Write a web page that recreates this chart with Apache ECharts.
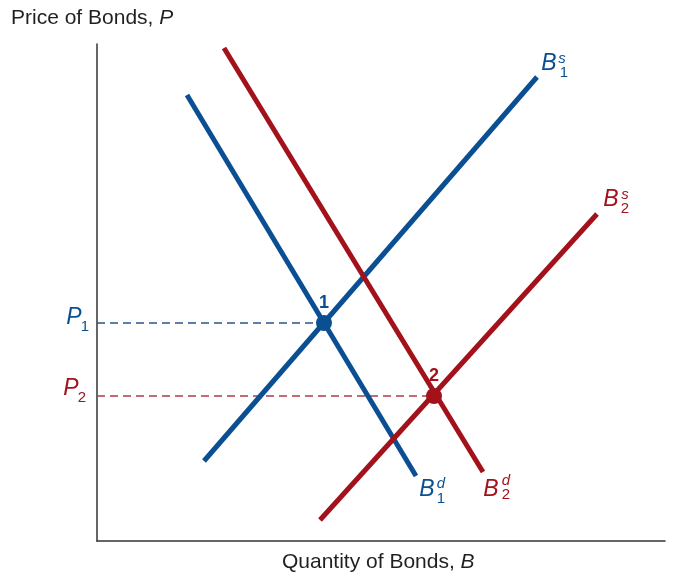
<!DOCTYPE html>
<html>
<head>
<meta charset="utf-8">
<script src="https://cdn.jsdelivr.net/npm/echarts@6/dist/echarts.min.js"></script>
<style>
  html, body { margin: 0; padding: 0; background: #fff; }
  #chart { width: 679px; height: 577px; }
</style>
</head>
<body>
<div id="chart"></div>
<script>
// axis units: quantity 0..568, price 0..497 (no ticks drawn)
const demand1 = [[90, 446], [319, 65]];
const demand2 = [[127, 493], [386, 69]];
const supply1 = [[107, 80], [440, 464]];
const supply2 = [[223, 21], [500, 327]];
const eq1 = [227, 218];
const eq2 = [337, 145];
const eqNames = ['1', '2'];

const blue = '#0b4f93';
const red = '#a3111b';
const font = '"Liberation Sans", Arial, Helvetica, sans-serif';

const chart = echarts.init(document.getElementById('chart'));

// curve label pieces: [x, y, text, style]
const curveLabels = [
  [452, 477, 'B', 'bb'], [465, 482, 's', 'sb'], [467, 468, '1', 'nb'],
  [514, 341, 'B', 'br'], [528, 346, 's', 'sr'], [528, 332, '2', 'nr'],
  [330, 51, 'B', 'bb'], [344, 57, 'd', 'sb'], [344, 42, '1', 'nb'],
  [394, 51, 'B', 'br'], [409, 60, 'd', 'sr'], [409, 46, '2', 'nr'],
  [-23, 223, 'P', 'bb'], [-12, 214, '1', 'nb'],
  [-26, 152, 'P', 'br'], [-15, 143, '2', 'nr']
];

const rich = {
  bb: { fontFamily: font, fontSize: 23, fontStyle: 'italic', color: blue },
  br: { fontFamily: font, fontSize: 23, fontStyle: 'italic', color: red },
  sb: { fontFamily: font, fontSize: 15, fontStyle: 'italic', color: blue },
  sr: { fontFamily: font, fontSize: 15, fontStyle: 'italic', color: red },
  nb: { fontFamily: font, fontSize: 15, color: blue },
  nr: { fontFamily: font, fontSize: 15, color: red }
};

function lineSeries(data, color) {
  return {
    type: 'line', data: data, symbol: 'none', silent: true,
    lineStyle: { color: color, width: 5, cap: 'butt' }
  };
}

function dashSeries(pt, color) {
  return {
    type: 'line', data: [[0, pt[1]], pt], symbol: 'none', silent: true,
    lineStyle: { color: color, width: 1.5, type: [8, 5] }
  };
}

const titleRich = {
  n: { fontFamily: font, fontSize: 21, fill: '#231f20' },
  i: { fontFamily: font, fontSize: 21, fontStyle: 'italic', fill: '#231f20' }
};

chart.setOption({
  animation: false,
  grid: { left: 97, right: 14, top: 44, bottom: 36 },
  xAxis: {
    type: 'value', min: 0, max: 568,
    axisLine: { show: true, onZero: false, lineStyle: { color: '#333', width: 1.5 } },
    axisTick: { show: false }, axisLabel: { show: false }, splitLine: { show: false }
  },
  yAxis: {
    type: 'value', min: 0, max: 497,
    axisLine: { show: true, onZero: false, lineStyle: { color: '#333', width: 1.5 } },
    axisTick: { show: false }, axisLabel: { show: false }, splitLine: { show: false }
  },
  graphic: [
    {
      type: 'text', left: 11, top: 8,
      style: { text: '{n|Price of Bonds, }{i|P}', rich: titleRich }
    },
    {
      type: 'text', left: 282, top: 552,
      style: { text: '{n|Quantity of Bonds, }{i|B}', rich: titleRich }
    }
  ],
  series: [
    dashSeries(eq1, '#2a5688'),
    dashSeries(eq2, '#b03a44'),
    lineSeries(demand1, blue),
    lineSeries(supply1, blue),
    lineSeries(demand2, red),
    lineSeries(supply2, red),
    {
      type: 'scatter', silent: true, symbolSize: 16, z: 5,
      itemStyle: { opacity: 1 },
      data: [
        { value: eq1, itemStyle: { color: blue }, label: { color: blue } },
        { value: eq2, itemStyle: { color: red }, label: { color: red } }
      ],
      label: {
        show: true, position: 'top', distance: 3,
        fontFamily: font, fontSize: 18, fontWeight: 'bold',
        formatter: (p) => eqNames[p.dataIndex]
      }
    },
    {
      type: 'scatter', silent: true, symbolSize: 0, z: 6, clip: false,
      itemStyle: { opacity: 1 },
      data: curveLabels.map(d => [d[0], d[1]]),
      label: {
        show: true, position: 'inside',
        formatter: (p) => '{' + curveLabels[p.dataIndex][3] + '|' + curveLabels[p.dataIndex][2] + '}',
        rich: rich
      }
    }
  ]
});
</script>
</body>
</html>
